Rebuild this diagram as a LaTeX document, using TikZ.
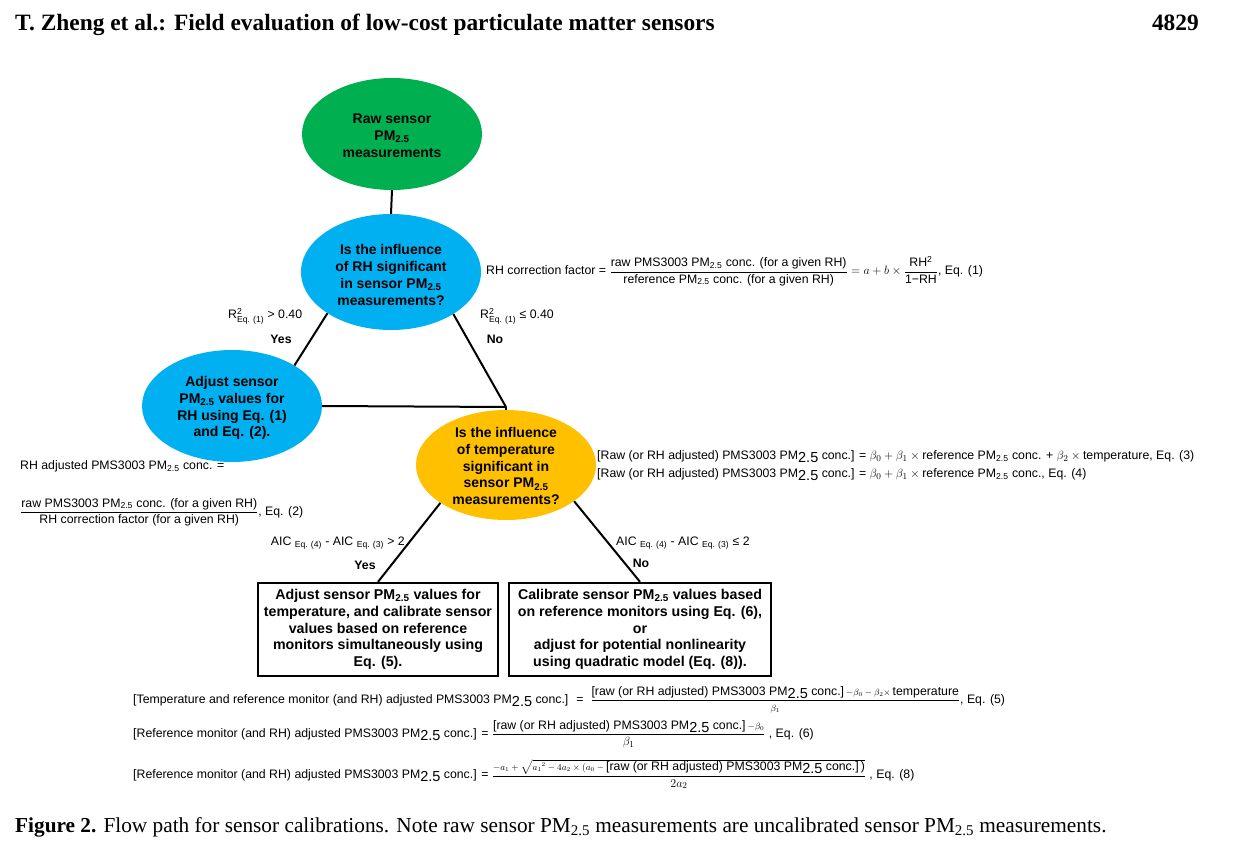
\documentclass[tikz,border=0pt]{standalone}
\usepackage{amsmath}
\usepackage{fontspec}
\setmainfont{Liberation Serif}
\newfontfamily\hv{Liberation Sans}
\usetikzlibrary{shapes.geometric}
\definecolor{rawgreen}{RGB}{0,176,80}
\definecolor{qblue}{RGB}{0,176,240}
\definecolor{tgold}{RGB}{255,192,0}
\newcommand{\pmsub}{PM\textsubscript{2.5}}
\newcommand{\pmbig}{PM\raisebox{-3pt}{\fontsize{14.5}{14.5}\selectfont 2.5}}
\newcommand{\smallm}[1]{{\fontsize{9}{10}\selectfont$#1$}}
\newcommand{\rsq}{R$^{\text{2}}_{\text{Eq. (1)}}$}
\tikzset{
  ell/.style={ellipse, draw=none, minimum width=180pt, inner sep=0pt},
  etext/.style={align=center, inner sep=0pt, font={\hv\bfseries\fontsize{14}{16.9}\selectfont}},
  decbox/.style={draw, line width=2.3pt, align=center, minimum height=93pt, inner sep=0pt,
     font={\hv\bfseries\fontsize{14.2}{16.75}\selectfont}},
  lbl/.style={inner sep=0pt, font={\hv\fontsize{12.3}{14}\selectfont}},
  lblb/.style={inner sep=0pt, font={\hv\bfseries\fontsize{12.3}{14}\selectfont}},
  conn/.style={line width=2pt},
}
\begin{document}
\begin{tikzpicture}[x=1pt,y=-1pt]
\useasboundingbox[fill=white] (0,0) rectangle (1254,856);
% header
\node[anchor=base west, inner sep=0pt, font={\bfseries\fontsize{23.4}{26}\selectfont}] (hdr) at (15,31) {T. Zheng et al.: Field evaluation of low-cost particulate matter sensors};
\node[anchor=base east, inner sep=0pt, font={\bfseries\fontsize{23.4}{26}\selectfont}] (pg) at (1199,31) {4829};
% ellipses
\node[ell, fill=rawgreen, minimum height=112pt] (raw) at (392,134) {};
\node[etext] (rawt) at (392,135.5) {Raw sensor\\\pmsub\\measurements};
\node[ell, fill=qblue, minimum height=116pt] (rhq) at (391,272) {};
\node[etext] (rhqt) at (391,275) {Is the influence\\of RH significant\\in sensor \pmsub\\measurements?};
\node[ell, fill=qblue, minimum height=112pt] (adj) at (232,406) {};
\node[etext] (adjt) at (232,408) {Adjust sensor\\\pmsub{} values for\\RH using Eq. (1)\\and Eq. (2).};
\node[ell, fill=tgold, minimum height=110pt] (tq) at (506,465) {};
\node[etext] (tqt) at (506,466) {Is the influence\\of temperature\\significant in\\sensor \pmsub\\measurements?};
\coordinate (J) at (506,407);
% boxes
\node[decbox, minimum width=240pt] (b1) at (378,629.5) {Adjust sensor \pmsub{} values for\\temperature, and calibrate sensor\\values based on reference\\monitors simultaneously using\\Eq. (5).};
\node[decbox, minimum width=262pt] (b2) at (640,629.5) {Calibrate sensor \pmsub{} values based\\on reference monitors using Eq. (6),\\or\\adjust for potential nonlinearity\\using quadratic model (Eq. (8)).};
% connectors
\draw[conn] (raw.south) -- (rhq.north);
\draw[conn] (rhq.213) -- (adj.33);
\draw[conn] (rhq.-34) -- (J);
\draw[conn] (adj.east) -- (J);
\draw[conn] (J) -- (tq.north);
\draw[conn] (tq.210) -- (b1.north);
\draw[conn] (tq.-28) -- (b2.north);
% branch labels
\node[lbl, anchor=west] (r2y) at (228,316) {\rsq{} > 0.40};
\node[lblb] (yes1) at (281,339) {Yes};
\node[lbl, anchor=west] (r2n) at (480,316) {\rsq{} ≤ 0.40};
\node[lblb] (no1) at (495,339) {No};
\node[lbl, anchor=east] (aicy) at (405,543) {AIC \textsubscript{Eq. (4)} - AIC \textsubscript{Eq. (3)} > 2};
\node[lblb] (yes2) at (365,565) {Yes};
\node[lbl, anchor=west] (aicn) at (616,543) {AIC \textsubscript{Eq. (4)} - AIC \textsubscript{Eq. (3)} ≤ 2};
\node[lblb] (no2) at (641,563) {No};
% equations
\node[lbl, anchor=west] (eq1) at (486,271) {RH correction factor = $\dfrac{\text{raw PMS3003 \pmsub{} conc. (for a given RH)}}{\text{reference \pmsub{} conc. (for a given RH)}} = a + b \times \dfrac{\text{RH\textsuperscript{2}}}{\text{1−RH}}$, Eq. (1)};
\node[lbl, anchor=west] (eq2a) at (20,466) {RH adjusted PMS3003 \pmsub{} conc. =};
\node[lbl, anchor=west] (eq2b) at (20,512) {$\dfrac{\text{raw PMS3003 \pmsub{} conc. (for a given RH)}}{\text{RH correction factor (for a given RH)}}$, Eq. (2)};
\node[lbl, anchor=west] (eq3) at (597,457) {[Raw (or RH adjusted) PMS3003 \pmbig{} conc.] = $\beta_0+\beta_1\times{}$reference \pmsub{} conc. + $\beta_2\times{}$temperature, Eq. (3)};
\node[lbl, anchor=west] (eq4) at (597,475) {[Raw (or RH adjusted) PMS3003 \pmbig{} conc.] = $\beta_0+\beta_1\times{}$reference \pmsub{} conc., Eq. (4)};
\node[lbl, anchor=west] (eq5) at (133,700) {[Temperature and reference monitor (and RH) adjusted PMS3003 \pmbig{} conc.] \ = \ $\dfrac{\text{[raw (or RH adjusted) PMS3003 \pmbig{} conc.]\,\smallm{-\beta_0-\beta_2\times}\,temperature}}{\scriptstyle\beta_1}$, Eq. (5)};
\node[lbl, anchor=west] (eq6) at (133,734) {[Reference monitor (and RH) adjusted PMS3003 \pmbig{} conc.] = $\dfrac{\text{[raw (or RH adjusted) PMS3003 \pmbig{} conc.]\,\smallm{-\beta_0}}}{\beta_1}$ , Eq. (6)};
\node[lbl, anchor=west] (eq8) at (133,774) {[Reference monitor (and RH) adjusted PMS3003 \pmbig{} conc.] = $\dfrac{\text{\smallm{-a_1+{}}}\sqrt{\text{\smallm{{a_1}^2-4a_2\times(a_0-{}}[raw (or RH adjusted) PMS3003 \pmbig{} conc.]\,)}}}{2a_2}$ , Eq. (8)};
% caption
\node[anchor=base west, inner sep=0pt, font={\fontsize{21.3}{24}\selectfont}] (cap) at (15,832) {\textbf{Figure 2.} Flow path for sensor calibrations. Note raw sensor PM\textsubscript{2.5} measurements are uncalibrated sensor PM\textsubscript{2.5} measurements.};
\end{tikzpicture}
\end{document}
